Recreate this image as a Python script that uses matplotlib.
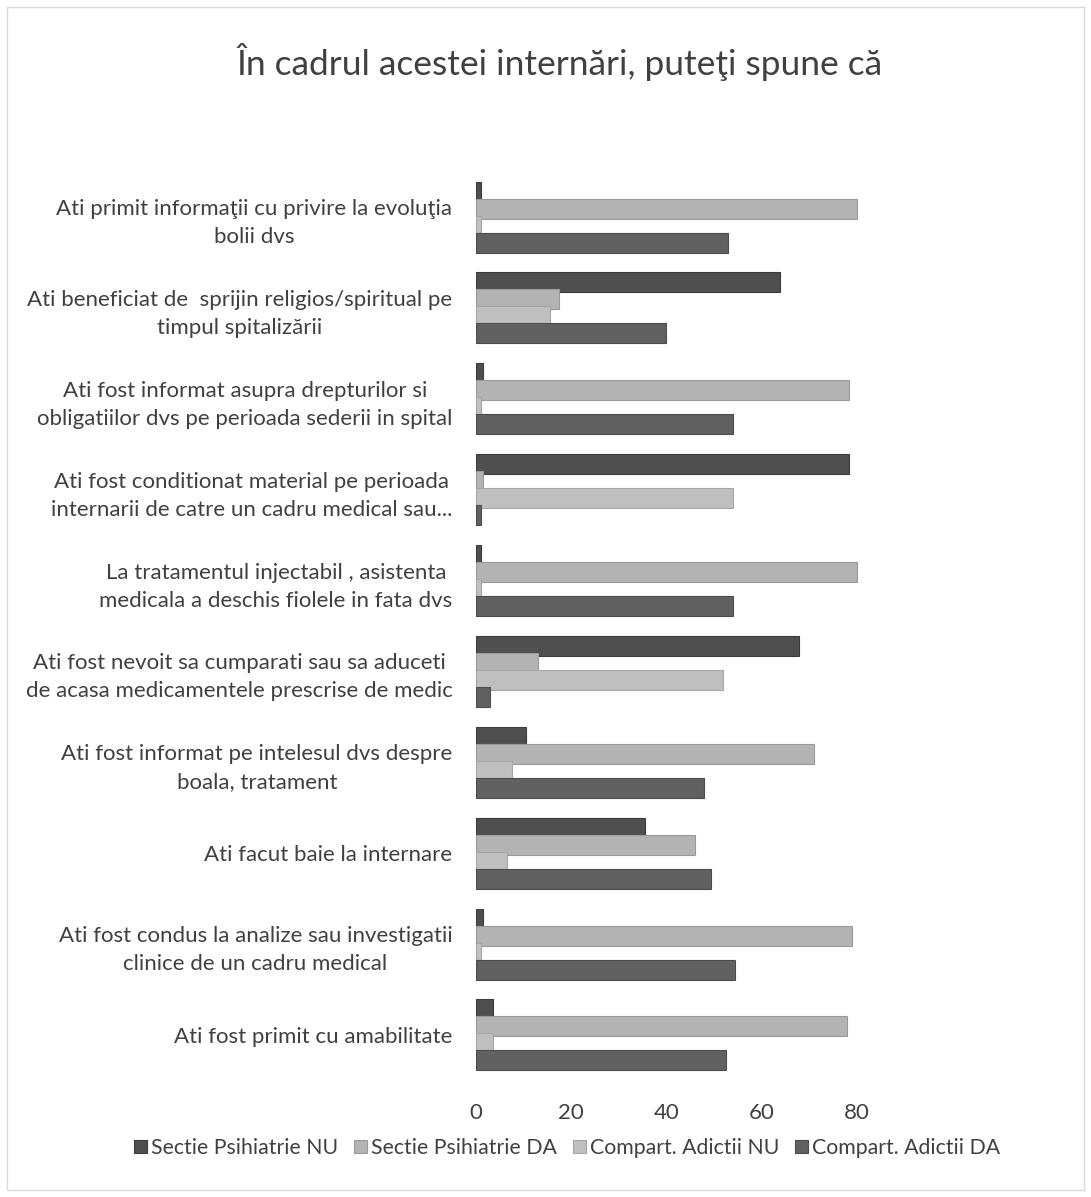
import matplotlib
matplotlib.use("Agg")
import matplotlib.pyplot as plt
import numpy as np
from matplotlib.patches import Rectangle

plt.rcParams["font.family"] = ["Lato", "DejaVu Sans"]

TITLE = "În cadrul acestei internări, puteţi spune că"

# top to bottom as in the picture
categories = [
    "Ati primit informaţii cu privire la evoluţia\nbolii dvs",
    "Ati beneficiat de  sprijin religios/spiritual pe\ntimpul spitalizării",
    "Ati fost informat asupra drepturilor si\nobligatiilor dvs pe perioada sederii in spital",
    "Ati fost conditionat material pe perioada\ninternarii de catre un cadru medical sau...",
    "La tratamentul injectabil , asistenta\nmedicala a deschis fiolele in fata dvs",
    "Ati fost nevoit sa cumparati sau sa aduceti\nde acasa medicamentele prescrise de medic",
    "Ati fost informat pe intelesul dvs despre\nboala, tratament",
    "Ati facut baie la internare",
    "Ati fost condus la analize sau investigatii\nclinice de un cadru medical",
    "Ati fost primit cu amabilitate",
]

series_names = ["Sectie Psihiatrie NU", "Sectie Psihiatrie DA",
                "Compart. Adictii NU", "Compart. Adictii DA"]

psih_nu = [1, 64, 1.5, 78.5, 1, 68, 10.5, 35.5, 1.5, 3.5]
psih_da = [80, 17.5, 78.5, 1.5, 80, 13, 71, 46, 79, 78]
adict_nu = [1, 15.5, 1, 54, 1, 52, 7.5, 6.5, 1, 3.5]
adict_da = [53, 40, 54, 1, 54, 3, 48, 49.5, 54.5, 52.5]

colors = ["#4f4f4f", "#b3b3b3", "#bfbfbf", "#616161"]
edges = ["#3c3c3c", "#9a9a9a", "#a6a6a6", "#4c4c4c"]
x_ticks = [0, 20, 40, 60, 80]

fig = plt.figure(figsize=(10.91, 11.97), dpi=100)
fig.patches.append(Rectangle((0.006, 0.006), 0.988, 0.988, transform=fig.transFigure,
                             fill=False, edgecolor="#d9d9d9", linewidth=1.0))

ax = fig.add_axes([0.4363, 0.0898, 0.3575, 0.7744])

n = len(categories)
ypos = np.arange(n)[::-1]  # first category on top
pitch = 0.187
height = 0.22
offsets = [1.5 * pitch, 0.5 * pitch, -0.5 * pitch, -1.5 * pitch]

for vals, off, col, ec, name in zip([psih_nu, psih_da, adict_nu, adict_da], offsets, colors, edges, series_names):
    ax.barh(ypos + off, vals, height=height, color=col, label=name,
            edgecolor=ec, linewidth=0.8)

ax.set_xlim(0, 82)
ax.set_ylim(-0.6, n - 0.4)
ax.set_xticks(x_ticks)
ax.set_xticklabels([str(t) for t in x_ticks], fontsize=16, color="#404040")
ax.set_yticks(ypos)
ax.set_yticklabels(categories, fontsize=16, color="#404040", multialignment="center",
                   linespacing=1.5)
ax.tick_params(axis="both", length=0)
ax.tick_params(axis="y", pad=17)
ax.tick_params(axis="x", pad=10)
for s in ax.spines.values():
    s.set_visible(False)

fig.text(0.513, 0.948, TITLE, ha="center", va="center", fontsize=25.5, color="#404040")

handles, labels = ax.get_legend_handles_labels()
fig.legend(handles, labels, loc="center", bbox_to_anchor=(0.52, 0.041), ncol=4, frameon=False,
           fontsize=15.3, handlelength=0.6, handleheight=0.6, handletextpad=0.2,
           columnspacing=0.75, labelcolor="#404040")

fig.savefig("out.png", dpi=100)
